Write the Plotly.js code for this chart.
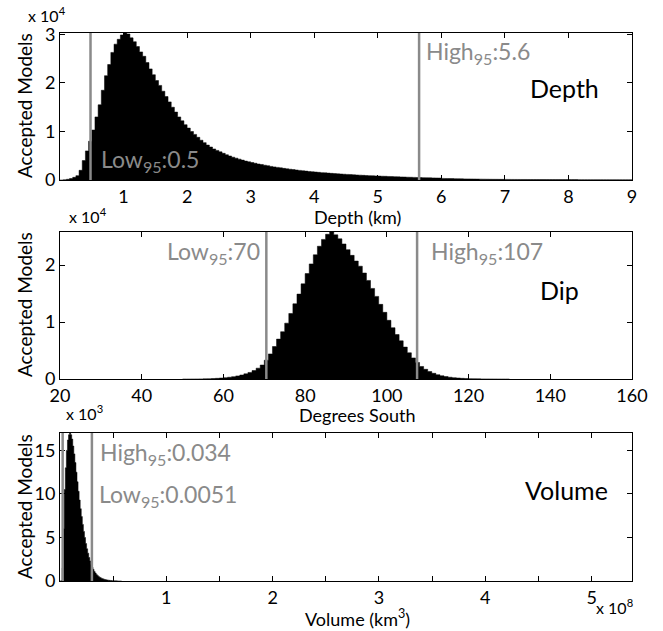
<!DOCTYPE html>
<html>
<head>
<meta charset="utf-8">
<script src="https://cdn.plot.ly/plotly-3.0.1.min.js"></script>
<style>html,body{margin:0;padding:0;background:#fff;}#chart{width:663px;height:631px;}</style>
</head>
<body>
<div id="chart"></div>
<script>
// ---------------- DATA ----------------
// Depth histogram (km), bins of 0.05 km starting at 0
const depthBinStart = 0;
const depthBinWidth = 0.05;
const depthCounts = [
  0, 50, 150, 300, 550, 900, 2000, 4000, 6000, 8000,
  10300, 13000, 15500, 18500, 21500, 23800, 26300, 28000, 29000, 29900,
  30300, 30100, 29300, 28500, 27500, 26400, 25500, 24200, 22900, 21700,
  20500, 19500, 18300, 17200, 16100, 15000, 14000, 13000, 12200, 11400,
  10700, 10000, 9400, 8800, 8200, 7700, 7200, 6800, 6400, 6100,
  5800, 5500, 5200, 4950, 4700, 4500, 4300, 4100, 3900, 3750,
  3600, 3450, 3300, 3200, 3050, 2950, 2800, 2700, 2600, 2500,
  2400, 2300, 2220, 2140, 2060, 1980, 1900, 1830, 1760, 1700,
  1640, 1580, 1520, 1470, 1420, 1370, 1320, 1270, 1230, 1190,
  1150, 1110, 1070, 1030, 1000, 960, 930, 900, 870, 840,
  810, 780, 760, 730, 700, 680, 650, 630, 610, 580,
  560, 540, 520, 500, 480, 460, 450, 430, 410, 400,
  330, 315, 300, 285, 270, 255, 240, 230, 220, 210,
  200, 190, 180, 170, 160, 150, 145, 140, 135, 130,
  125, 120, 118, 115, 112, 110, 108, 105, 102, 100,
  98, 96, 94, 92, 90, 88, 86, 85, 84, 82,
  80, 79, 78, 76, 75, 74, 72, 71, 70, 68,
  67, 66, 65, 64, 63, 62, 61, 60, 60, 60
];
const depthInterval = [0.48, 5.65];          // 95% bounds (km)
const depthLabels = ['Low<sub>95</sub>:0.5', 'High<sub>95</sub>:5.6'];
const depthTicksX = [1, 2, 3, 4, 5, 6, 7, 8, 9];
const depthTicksY = [0, 10000, 20000, 30000];
const depthTickTextY = ['0', '1', '2', '3'];

// Dip histogram (degrees south), bins of 1 degree starting at 50
const dipBinStart = 50;
const dipBinWidth = 1;
const dipCounts = [
  0, 0, 5, 10, 20, 30, 50, 80, 120, 170,
  230, 310, 410, 540, 700, 900, 1150, 1480, 1900, 2450,
  3300, 4400, 5700, 7000, 8300, 9800, 11500, 13200, 14900, 16700,
  18500, 20200, 21800, 23300, 24500, 25400, 25800, 25300, 24600, 23700,
  22700, 21700, 20700, 19800, 18600, 17300, 15900, 14500, 13100, 11700,
  10300, 9000, 7800, 6700, 5600, 4600, 3700, 2900, 2200, 1700,
  1300, 1000, 750, 560, 420, 310, 230, 170, 120, 90,
  65, 45, 30, 20, 15, 10, 5, 0, 0, 0
];
const dipInterval = [70.5, 107.4];
const dipLabels = ['Low<sub>95</sub>:70', 'High<sub>95</sub>:107'];
const dipTicksX = [20, 40, 60, 80, 100, 120, 140, 160];
const dipTicksY = [0, 10000, 20000];
const dipTickTextY = ['0', '1', '2'];

// Volume histogram, bins of 1e6 starting at 0
const volBinStart = 0;
const volBinWidth = 1e6;
const volCounts = [
  0, 50, 1500, 6000, 10500, 13000, 15000, 16200, 16800, 17000,
  16800, 16300, 15500, 14600, 13600, 12500, 11400, 10300, 9300, 8300,
  7400, 6500, 5700, 5000, 4300, 3700, 3200, 2700, 2300, 1900,
  1600, 1350, 1100, 920, 760, 630, 520, 430, 360, 300,
  250, 210, 170, 140, 120, 100, 80, 65, 50, 40,
  30, 25, 20, 15, 10, 8, 5, 0
];
const volInterval = [2.5e6, 3.0e7];
const volLabels = ['Low<sub>95</sub>:0.0051', 'High<sub>95</sub>:0.034'];
const volTicksX = [1e8, 2e8, 3e8, 4e8, 5e8];
const volTickTextX = ['1', '2', '3', '4', '5'];
const volMinorStep = 0.5e8;
const volTicksY = [0, 5000, 10000, 15000];
const volTickTextY = ['0', '5', '10', '15'];

// ---------------- LAYOUT HELPERS ----------------
const W = 663, H = 631;
const L = 60, R = 632, T = 33, B = 581;
const px = x => (x - L) / (R - L);
const py = y => (B - y) / (B - T);
const FONT = 'Lato, "Open Sans", sans-serif';
const GRAY = '#8a8a8a';

function stepTrace(start, width, counts, xa, ya) {
  const xs = [], ys = [];
  for (let i = 0; i < counts.length; i++) {
    xs.push(start + i * width); ys.push(counts[i]);
  }
  xs.push(start + counts.length * width); ys.push(counts[counts.length - 1]);
  return {
    type: 'scatter', mode: 'lines', x: xs, y: ys, xaxis: xa, yaxis: ya,
    line: {shape: 'hv', color: '#000', width: 0.5}, fill: 'tozeroy', fillcolor: '#000',
    hoverinfo: 'skip', showlegend: false
  };
}

const data = [
  stepTrace(depthBinStart, depthBinWidth, depthCounts, 'x', 'y'),
  stepTrace(dipBinStart, dipBinWidth, dipCounts, 'x2', 'y2'),
  stepTrace(volBinStart, volBinWidth, volCounts, 'x3', 'y3')
];

const axisCommon = {
  showline: true, linecolor: '#000', linewidth: 1, mirror: 'allticks',
  ticks: 'inside', ticklen: 5, tickcolor: '#000', tickwidth: 1,
  zeroline: false, showgrid: false, fixedrange: true,
  tickfont: {family: FONT, size: 18, color: '#000'}
};

const d1 = [py(180), 1], d2 = [py(379), py(232)], d3 = [0, py(433)];

const shapes = [];
function vlines(vals, xref, yref) {
  vals.forEach(v => shapes.push({
    type: 'line', xref: xref, yref: yref + ' domain', x0: v, x1: v, y0: 0, y1: 1,
    line: {color: GRAY, width: 2.5}
  }));
}
vlines(depthInterval, 'x', 'y');
vlines(dipInterval, 'x2', 'y2');
vlines(volInterval, 'x3', 'y3');

function ann(text, x, y, opts) {
  return Object.assign({
    text: text, xref: 'paper', yref: 'paper', x: px(x), y: py(y),
    xanchor: 'left', yanchor: 'middle', showarrow: false,
    font: {family: FONT, size: 19, color: '#000'}
  }, opts || {});
}
const grayFont = {family: FONT, size: 23, color: GRAY};
const bigFont = {family: FONT, size: 25, color: '#000'};
const expFont = {family: FONT, size: 16, color: '#000'};
const titleFont = {family: FONT, size: 18, color: '#000'};

const annotations = [
  // exponent labels
  ann('x 10<sup>4</sup>', 26, 14, {font: expFont}),
  ann('x 10<sup>4</sup>', 67, 215, {font: expFont}),
  ann('x 10<sup>3</sup>', 64, 413, {font: expFont}),
  ann('x 10<sup>8</sup>', 594, 607, {font: expFont}),
  // axis titles
  ann('Depth (km)', 357, 217, {xanchor: 'center', font: titleFont}),
  ann('Degrees South', 357, 415, {xanchor: 'center', font: titleFont}),
  ann('Volume (km<sup>3</sup>)', 357, 618, {xanchor: 'center', font: titleFont}),
  ann('Accepted Models', 24, 106, {xanchor: 'center', textangle: -90}),
  ann('Accepted Models', 24, 305, {xanchor: 'center', textangle: -90}),
  ann('Accepted Models', 24, 507, {xanchor: 'center', textangle: -90}),
  // panel names
  ann('Depth', 528, 88, {font: bigFont}),
  ann('Dip', 538, 290, {font: bigFont}),
  ann('Volume', 523, 490, {font: bigFont}),
  // interval labels
  ann(depthLabels[0], 99, 160, {font: grayFont}),
  ann(depthLabels[1], 424, 53, {font: grayFont}),
  ann(dipLabels[0], 262, 253, {font: grayFont, xanchor: 'right'}),
  ann(dipLabels[1], 429, 253, {font: grayFont}),
  ann(volLabels[1], 98, 453, {font: grayFont}),
  ann(volLabels[0], 97, 495, {font: grayFont})
];

const layout = {
  width: W, height: H,
  margin: {l: L, r: W - R, t: T, b: H - B, pad: 0},
  paper_bgcolor: '#fff', plot_bgcolor: '#fff',
  showlegend: false,
  font: {family: FONT, color: '#000'},
  xaxis: Object.assign({}, axisCommon, {domain: [0, 1], anchor: 'y', range: [0, 9], tickvals: depthTicksX}),
  yaxis: Object.assign({}, axisCommon, {domain: d1, anchor: 'x', range: [0, 30300], tickvals: depthTicksY, ticktext: depthTickTextY}),
  xaxis2: Object.assign({}, axisCommon, {domain: [0, 1], anchor: 'y2', range: [20, 160], tickvals: dipTicksX}),
  yaxis2: Object.assign({}, axisCommon, {domain: d2, anchor: 'x2', range: [0, 25800], tickvals: dipTicksY, ticktext: dipTickTextY}),
  xaxis3: Object.assign({}, axisCommon, {domain: [0, 1], anchor: 'y3', range: [0, 5.38e8], tickvals: volTicksX, ticktext: volTickTextX,
    minor: {tick0: 0, dtick: volMinorStep, ticks: 'inside', ticklen: 5, tickcolor: '#000', tickwidth: 1, showgrid: false}}),
  yaxis3: Object.assign({}, axisCommon, {domain: d3, anchor: 'x3', range: [0, 17000], tickvals: volTicksY, ticktext: volTickTextY}),
  shapes: shapes,
  annotations: annotations
};

Plotly.newPlot('chart', data, layout, {displayModeBar: false, staticPlot: true});
</script>
</body>
</html>
